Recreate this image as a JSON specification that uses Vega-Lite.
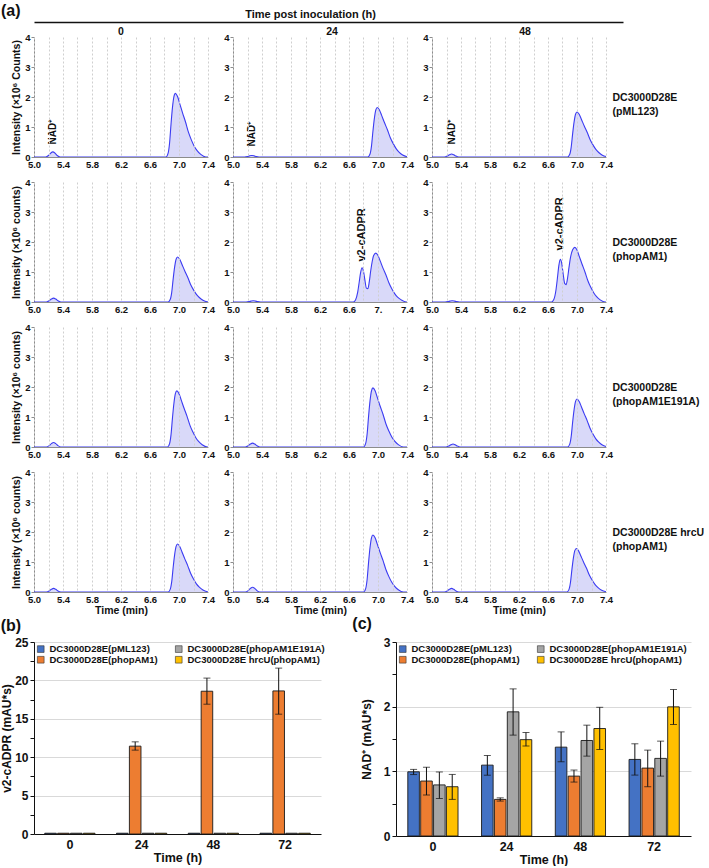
{
  "$schema": "https://vega.github.io/schema/vega-lite/v6.json",
  "padding": {"left": 0, "top": 3, "right": 0, "bottom": 0},
  "background": "white",
  "spacing": 0,
  "config": {
    "view": {"stroke": null},
    "font": "Liberation Sans",
    "axis": {"labelFont": "Liberation Sans", "labelFontWeight": "bold", "labelFontSize": 9.5, "labelColor": "#111", "titleFont": "Liberation Sans", "titleFontWeight": "bold", "titleFontSize": 10.5, "titleColor": "#111", "domainColor": "#8c8c8c", "tickColor": "#8c8c8c", "labelFlush": false, "labelOverlap": false, "grid": false},
    "title": {"font": "Liberation Sans", "fontWeight": "bold", "color": "#111"}
  },
  "datasets": {
    "chrom": [
      {"p":"r1c1","t":5,"v":0},{"p":"r1c1","t":5.16,"v":0},{"p":"r1c1","t":5.2,"v":0.051},{"p":"r1c1","t":5.23,"v":0.128},{"p":"r1c1","t":5.26,"v":0.17},{"p":"r1c1","t":5.29,"v":0.128},{"p":"r1c1","t":5.32,"v":0.051},{"p":"r1c1","t":5.36,"v":0},
      {"p":"r1c1","t":6.82,"v":0},{"p":"r1c1","t":6.85,"v":0.127},{"p":"r1c1","t":6.87,"v":0.466},{"p":"r1c1","t":6.89,"v":1.102},{"p":"r1c1","t":6.91,"v":1.654},{"p":"r1c1","t":6.93,"v":2.014},{"p":"r1c1","t":6.95,"v":2.12},{"p":"r1c1","t":6.98,"v":2.014},{"p":"r1c1","t":7.01,"v":1.781},{"p":"r1c1","t":7.05,"v":1.463},{"p":"r1c1","t":7.09,"v":1.166},{"p":"r1c1","t":7.13,"v":0.827},{"p":"r1c1","t":7.17,"v":0.572},{"p":"r1c1","t":7.21,"v":0.36},{"p":"r1c1","t":7.25,"v":0.212},{"p":"r1c1","t":7.3,"v":0.085},{"p":"r1c1","t":7.37,"v":0},{"p":"r1c1","t":7.4,"v":0},

      {"p":"r1c2","t":5,"v":0},{"p":"r1c2","t":5.16,"v":0},{"p":"r1c2","t":5.2,"v":0.015},{"p":"r1c2","t":5.23,"v":0.038},{"p":"r1c2","t":5.26,"v":0.05},{"p":"r1c2","t":5.29,"v":0.038},{"p":"r1c2","t":5.32,"v":0.015},{"p":"r1c2","t":5.36,"v":0},
      {"p":"r1c2","t":6.86,"v":0},{"p":"r1c2","t":6.89,"v":0.099},{"p":"r1c2","t":6.91,"v":0.363},{"p":"r1c2","t":6.93,"v":0.858},{"p":"r1c2","t":6.95,"v":1.287},{"p":"r1c2","t":6.97,"v":1.568},{"p":"r1c2","t":6.99,"v":1.65},{"p":"r1c2","t":7.02,"v":1.568},{"p":"r1c2","t":7.05,"v":1.386},{"p":"r1c2","t":7.09,"v":1.139},{"p":"r1c2","t":7.13,"v":0.908},{"p":"r1c2","t":7.17,"v":0.644},{"p":"r1c2","t":7.21,"v":0.446},{"p":"r1c2","t":7.25,"v":0.281},{"p":"r1c2","t":7.29,"v":0.165},{"p":"r1c2","t":7.34,"v":0.066},{"p":"r1c2","t":7.4,"v":0.01},

      {"p":"r1c3","t":5,"v":0},{"p":"r1c3","t":5.17,"v":0},{"p":"r1c3","t":5.21,"v":0.03},{"p":"r1c3","t":5.24,"v":0.075},{"p":"r1c3","t":5.27,"v":0.1},{"p":"r1c3","t":5.3,"v":0.075},{"p":"r1c3","t":5.33,"v":0.03},{"p":"r1c3","t":5.37,"v":0},
      {"p":"r1c3","t":6.87,"v":0},{"p":"r1c3","t":6.9,"v":0.09},{"p":"r1c3","t":6.92,"v":0.33},{"p":"r1c3","t":6.94,"v":0.78},{"p":"r1c3","t":6.96,"v":1.17},{"p":"r1c3","t":6.98,"v":1.425},{"p":"r1c3","t":7,"v":1.5},{"p":"r1c3","t":7.03,"v":1.425},{"p":"r1c3","t":7.06,"v":1.26},{"p":"r1c3","t":7.1,"v":1.035},{"p":"r1c3","t":7.14,"v":0.825},{"p":"r1c3","t":7.18,"v":0.585},{"p":"r1c3","t":7.22,"v":0.405},{"p":"r1c3","t":7.26,"v":0.255},{"p":"r1c3","t":7.3,"v":0.15},{"p":"r1c3","t":7.35,"v":0.06},{"p":"r1c3","t":7.4,"v":0.015},

      {"p":"r2c1","t":5,"v":0},{"p":"r2c1","t":5.17,"v":0},{"p":"r2c1","t":5.21,"v":0.039},{"p":"r2c1","t":5.24,"v":0.098},{"p":"r2c1","t":5.27,"v":0.13},{"p":"r2c1","t":5.3,"v":0.098},{"p":"r2c1","t":5.33,"v":0.039},{"p":"r2c1","t":5.37,"v":0},
      {"p":"r2c1","t":6.85,"v":0},{"p":"r2c1","t":6.88,"v":0.09},{"p":"r2c1","t":6.9,"v":0.33},{"p":"r2c1","t":6.92,"v":0.78},{"p":"r2c1","t":6.94,"v":1.17},{"p":"r2c1","t":6.96,"v":1.425},{"p":"r2c1","t":6.98,"v":1.5},{"p":"r2c1","t":7.01,"v":1.425},{"p":"r2c1","t":7.04,"v":1.26},{"p":"r2c1","t":7.08,"v":1.035},{"p":"r2c1","t":7.12,"v":0.825},{"p":"r2c1","t":7.16,"v":0.585},{"p":"r2c1","t":7.2,"v":0.405},{"p":"r2c1","t":7.24,"v":0.255},{"p":"r2c1","t":7.28,"v":0.15},{"p":"r2c1","t":7.33,"v":0.06},{"p":"r2c1","t":7.4,"v":0},

      {"p":"r2c2","t":5,"v":0},{"p":"r2c2","t":5.18,"v":0},{"p":"r2c2","t":5.22,"v":0.012},{"p":"r2c2","t":5.25,"v":0.03},{"p":"r2c2","t":5.28,"v":0.04},{"p":"r2c2","t":5.31,"v":0.03},{"p":"r2c2","t":5.34,"v":0.012},{"p":"r2c2","t":5.38,"v":0},
      {"p":"r2c2","t":6.66,"v":0},{"p":"r2c2","t":6.69,"v":0.07},{"p":"r2c2","t":6.72,"v":0.33},{"p":"r2c2","t":6.74,"v":0.65},{"p":"r2c2","t":6.76,"v":0.98},{"p":"r2c2","t":6.78,"v":1.14},{"p":"r2c2","t":6.8,"v":1.02},{"p":"r2c2","t":6.82,"v":0.72},{"p":"r2c2","t":6.84,"v":0.46},{"p":"r2c2","t":6.86,"v":0.44},{"p":"r2c2","t":6.88,"v":0.68},{"p":"r2c2","t":6.9,"v":1.05},{"p":"r2c2","t":6.92,"v":1.35},{"p":"r2c2","t":6.94,"v":1.55},{"p":"r2c2","t":6.97,"v":1.63},{"p":"r2c2","t":7,"v":1.55},{"p":"r2c2","t":7.03,"v":1.37},{"p":"r2c2","t":7.07,"v":1.12},{"p":"r2c2","t":7.11,"v":0.9},{"p":"r2c2","t":7.15,"v":0.64},{"p":"r2c2","t":7.19,"v":0.44},{"p":"r2c2","t":7.23,"v":0.28},{"p":"r2c2","t":7.27,"v":0.16},{"p":"r2c2","t":7.32,"v":0.07},{"p":"r2c2","t":7.39,"v":0},{"p":"r2c2","t":7.4,"v":0},

      {"p":"r2c3","t":5,"v":0},{"p":"r2c3","t":5.18,"v":0},{"p":"r2c3","t":5.22,"v":0.012},{"p":"r2c3","t":5.25,"v":0.03},{"p":"r2c3","t":5.28,"v":0.04},{"p":"r2c3","t":5.31,"v":0.03},{"p":"r2c3","t":5.34,"v":0.012},{"p":"r2c3","t":5.38,"v":0},
      {"p":"r2c3","t":6.65,"v":0},{"p":"r2c3","t":6.68,"v":0.08},{"p":"r2c3","t":6.71,"v":0.4},{"p":"r2c3","t":6.73,"v":0.8},{"p":"r2c3","t":6.75,"v":1.22},{"p":"r2c3","t":6.77,"v":1.42},{"p":"r2c3","t":6.79,"v":1.28},{"p":"r2c3","t":6.81,"v":0.92},{"p":"r2c3","t":6.83,"v":0.62},{"p":"r2c3","t":6.85,"v":0.58},{"p":"r2c3","t":6.87,"v":0.8},{"p":"r2c3","t":6.89,"v":1.16},{"p":"r2c3","t":6.91,"v":1.48},{"p":"r2c3","t":6.94,"v":1.74},{"p":"r2c3","t":6.97,"v":1.82},{"p":"r2c3","t":7,"v":1.73},{"p":"r2c3","t":7.03,"v":1.53},{"p":"r2c3","t":7.07,"v":1.26},{"p":"r2c3","t":7.11,"v":1.0},{"p":"r2c3","t":7.15,"v":0.71},{"p":"r2c3","t":7.19,"v":0.49},{"p":"r2c3","t":7.23,"v":0.31},{"p":"r2c3","t":7.27,"v":0.18},{"p":"r2c3","t":7.32,"v":0.07},{"p":"r2c3","t":7.39,"v":0},{"p":"r2c3","t":7.4,"v":0},

      {"p":"r3c1","t":5,"v":0},{"p":"r3c1","t":5.17,"v":0},{"p":"r3c1","t":5.21,"v":0.045},{"p":"r3c1","t":5.24,"v":0.113},{"p":"r3c1","t":5.27,"v":0.15},{"p":"r3c1","t":5.3,"v":0.113},{"p":"r3c1","t":5.33,"v":0.045},{"p":"r3c1","t":5.37,"v":0},
      {"p":"r3c1","t":6.84,"v":0},{"p":"r3c1","t":6.87,"v":0.112},{"p":"r3c1","t":6.89,"v":0.411},{"p":"r3c1","t":6.91,"v":0.972},{"p":"r3c1","t":6.93,"v":1.459},{"p":"r3c1","t":6.95,"v":1.777},{"p":"r3c1","t":6.97,"v":1.87},{"p":"r3c1","t":7,"v":1.777},{"p":"r3c1","t":7.03,"v":1.571},{"p":"r3c1","t":7.07,"v":1.29},{"p":"r3c1","t":7.11,"v":1.029},{"p":"r3c1","t":7.15,"v":0.729},{"p":"r3c1","t":7.19,"v":0.505},{"p":"r3c1","t":7.23,"v":0.318},{"p":"r3c1","t":7.27,"v":0.187},{"p":"r3c1","t":7.32,"v":0.075},{"p":"r3c1","t":7.39,"v":0},{"p":"r3c1","t":7.4,"v":0},

      {"p":"r3c2","t":5,"v":0},{"p":"r3c2","t":5.17,"v":0},{"p":"r3c2","t":5.21,"v":0.039},{"p":"r3c2","t":5.24,"v":0.098},{"p":"r3c2","t":5.27,"v":0.13},{"p":"r3c2","t":5.3,"v":0.098},{"p":"r3c2","t":5.33,"v":0.039},{"p":"r3c2","t":5.37,"v":0},
      {"p":"r3c2","t":6.8,"v":0},{"p":"r3c2","t":6.83,"v":0.118},{"p":"r3c2","t":6.85,"v":0.433},{"p":"r3c2","t":6.87,"v":1.024},{"p":"r3c2","t":6.89,"v":1.537},{"p":"r3c2","t":6.91,"v":1.872},{"p":"r3c2","t":6.93,"v":1.97},{"p":"r3c2","t":6.96,"v":1.872},{"p":"r3c2","t":6.99,"v":1.655},{"p":"r3c2","t":7.03,"v":1.359},{"p":"r3c2","t":7.07,"v":1.084},{"p":"r3c2","t":7.11,"v":0.768},{"p":"r3c2","t":7.15,"v":0.532},{"p":"r3c2","t":7.19,"v":0.335},{"p":"r3c2","t":7.23,"v":0.197},{"p":"r3c2","t":7.28,"v":0.079},{"p":"r3c2","t":7.35,"v":0},{"p":"r3c2","t":7.4,"v":0},

      {"p":"r3c3","t":5,"v":0},{"p":"r3c3","t":5.19,"v":0},{"p":"r3c3","t":5.23,"v":0.03},{"p":"r3c3","t":5.26,"v":0.075},{"p":"r3c3","t":5.29,"v":0.1},{"p":"r3c3","t":5.32,"v":0.075},{"p":"r3c3","t":5.35,"v":0.03},{"p":"r3c3","t":5.39,"v":0},
      {"p":"r3c3","t":6.87,"v":0},{"p":"r3c3","t":6.9,"v":0.096},{"p":"r3c3","t":6.92,"v":0.352},{"p":"r3c3","t":6.94,"v":0.832},{"p":"r3c3","t":6.96,"v":1.248},{"p":"r3c3","t":6.98,"v":1.52},{"p":"r3c3","t":7,"v":1.6},{"p":"r3c3","t":7.03,"v":1.52},{"p":"r3c3","t":7.06,"v":1.344},{"p":"r3c3","t":7.1,"v":1.104},{"p":"r3c3","t":7.14,"v":0.88},{"p":"r3c3","t":7.18,"v":0.624},{"p":"r3c3","t":7.22,"v":0.432},{"p":"r3c3","t":7.26,"v":0.272},{"p":"r3c3","t":7.3,"v":0.16},{"p":"r3c3","t":7.35,"v":0.064},{"p":"r3c3","t":7.4,"v":0.016},

      {"p":"r4c1","t":5,"v":0},{"p":"r4c1","t":5.17,"v":0},{"p":"r4c1","t":5.21,"v":0.036},{"p":"r4c1","t":5.24,"v":0.09},{"p":"r4c1","t":5.27,"v":0.12},{"p":"r4c1","t":5.3,"v":0.09},{"p":"r4c1","t":5.33,"v":0.036},{"p":"r4c1","t":5.37,"v":0},
      {"p":"r4c1","t":6.85,"v":0},{"p":"r4c1","t":6.88,"v":0.096},{"p":"r4c1","t":6.9,"v":0.352},{"p":"r4c1","t":6.92,"v":0.832},{"p":"r4c1","t":6.94,"v":1.248},{"p":"r4c1","t":6.96,"v":1.52},{"p":"r4c1","t":6.98,"v":1.6},{"p":"r4c1","t":7.01,"v":1.52},{"p":"r4c1","t":7.04,"v":1.344},{"p":"r4c1","t":7.08,"v":1.104},{"p":"r4c1","t":7.12,"v":0.88},{"p":"r4c1","t":7.16,"v":0.624},{"p":"r4c1","t":7.2,"v":0.432},{"p":"r4c1","t":7.24,"v":0.272},{"p":"r4c1","t":7.28,"v":0.16},{"p":"r4c1","t":7.33,"v":0.064},{"p":"r4c1","t":7.4,"v":0},

      {"p":"r4c2","t":5,"v":0},{"p":"r4c2","t":5.17,"v":0},{"p":"r4c2","t":5.21,"v":0.048},{"p":"r4c2","t":5.24,"v":0.12},{"p":"r4c2","t":5.27,"v":0.16},{"p":"r4c2","t":5.3,"v":0.12},{"p":"r4c2","t":5.33,"v":0.048},{"p":"r4c2","t":5.37,"v":0},
      {"p":"r4c2","t":6.8,"v":0},{"p":"r4c2","t":6.83,"v":0.114},{"p":"r4c2","t":6.85,"v":0.418},{"p":"r4c2","t":6.87,"v":0.988},{"p":"r4c2","t":6.89,"v":1.482},{"p":"r4c2","t":6.91,"v":1.805},{"p":"r4c2","t":6.93,"v":1.9},{"p":"r4c2","t":6.96,"v":1.805},{"p":"r4c2","t":6.99,"v":1.596},{"p":"r4c2","t":7.03,"v":1.311},{"p":"r4c2","t":7.07,"v":1.045},{"p":"r4c2","t":7.11,"v":0.741},{"p":"r4c2","t":7.15,"v":0.513},{"p":"r4c2","t":7.19,"v":0.323},{"p":"r4c2","t":7.23,"v":0.19},{"p":"r4c2","t":7.28,"v":0.076},{"p":"r4c2","t":7.35,"v":0},{"p":"r4c2","t":7.4,"v":0},

      {"p":"r4c3","t":5,"v":0},{"p":"r4c3","t":5.17,"v":0},{"p":"r4c3","t":5.21,"v":0.036},{"p":"r4c3","t":5.24,"v":0.09},{"p":"r4c3","t":5.27,"v":0.12},{"p":"r4c3","t":5.3,"v":0.09},{"p":"r4c3","t":5.33,"v":0.036},{"p":"r4c3","t":5.37,"v":0},
      {"p":"r4c3","t":6.86,"v":0},{"p":"r4c3","t":6.89,"v":0.087},{"p":"r4c3","t":6.91,"v":0.319},{"p":"r4c3","t":6.93,"v":0.754},{"p":"r4c3","t":6.95,"v":1.131},{"p":"r4c3","t":6.97,"v":1.378},{"p":"r4c3","t":6.99,"v":1.45},{"p":"r4c3","t":7.02,"v":1.378},{"p":"r4c3","t":7.05,"v":1.218},{"p":"r4c3","t":7.09,"v":1.001},{"p":"r4c3","t":7.13,"v":0.798},{"p":"r4c3","t":7.17,"v":0.566},{"p":"r4c3","t":7.21,"v":0.392},{"p":"r4c3","t":7.25,"v":0.247},{"p":"r4c3","t":7.29,"v":0.145},{"p":"r4c3","t":7.34,"v":0.058},{"p":"r4c3","t":7.4,"v":0.01}
    ],
    "ann": [
      {"p":"r1c1","t":5.26,"v":0.42,"label":"NAD⁺"},
      {"p":"r1c2","t":5.26,"v":0.35,"label":"NAD⁺"},
      {"p":"r1c3","t":5.27,"v":0.42,"label":"NAD⁺"},
      {"p":"r2c2","t":6.78,"v":1.35,"label":"v2-cADPR"},
      {"p":"r2c3","t":6.77,"v":1.72,"label":"v2-cADPR"}
    ],
    "cadpr": [
      {"time":"0","strain":"DC3000D28E(pML123)","v":0.1,"lo":null,"hi":null},
      {"time":"0","strain":"DC3000D28E(phopAM1)","v":0.1,"lo":null,"hi":null},
      {"time":"0","strain":"DC3000D28E(phopAM1E191A)","v":0.1,"lo":null,"hi":null},
      {"time":"0","strain":"DC3000D28E hrcU(phopAM1)","v":0.1,"lo":null,"hi":null},
      {"time":"24","strain":"DC3000D28E(pML123)","v":0.1,"lo":null,"hi":null},
      {"time":"24","strain":"DC3000D28E(phopAM1)","v":11.44,"lo":10.92,"hi":12.0},
      {"time":"24","strain":"DC3000D28E(phopAM1E191A)","v":0.1,"lo":null,"hi":null},
      {"time":"24","strain":"DC3000D28E hrcU(phopAM1)","v":0.1,"lo":null,"hi":null},
      {"time":"48","strain":"DC3000D28E(pML123)","v":0.1,"lo":null,"hi":null},
      {"time":"48","strain":"DC3000D28E(phopAM1)","v":18.59,"lo":16.9,"hi":20.3},
      {"time":"48","strain":"DC3000D28E(phopAM1E191A)","v":0.1,"lo":null,"hi":null},
      {"time":"48","strain":"DC3000D28E hrcU(phopAM1)","v":0.1,"lo":null,"hi":null},
      {"time":"72","strain":"DC3000D28E(pML123)","v":0.1,"lo":null,"hi":null},
      {"time":"72","strain":"DC3000D28E(phopAM1)","v":18.63,"lo":15.6,"hi":21.6},
      {"time":"72","strain":"DC3000D28E(phopAM1E191A)","v":0.1,"lo":null,"hi":null},
      {"time":"72","strain":"DC3000D28E hrcU(phopAM1)","v":0.1,"lo":null,"hi":null}
    ],
    "nad": [
      {"time":"0","strain":"DC3000D28E(pML123)","v":0.993,"lo":0.95,"hi":1.03},
      {"time":"0","strain":"DC3000D28E(phopAM1)","v":0.85,"lo":0.633,"hi":1.065},
      {"time":"0","strain":"DC3000D28E(phopAM1E191A)","v":0.79,"lo":0.58,"hi":0.99},
      {"time":"0","strain":"DC3000D28E hrcU(phopAM1)","v":0.762,"lo":0.566,"hi":0.952},
      {"time":"24","strain":"DC3000D28E(pML123)","v":1.096,"lo":0.94,"hi":1.245},
      {"time":"24","strain":"DC3000D28E(phopAM1)","v":0.566,"lo":0.54,"hi":0.59},
      {"time":"24","strain":"DC3000D28E(phopAM1E191A)","v":1.92,"lo":1.56,"hi":2.275},
      {"time":"24","strain":"DC3000D28E hrcU(phopAM1)","v":1.49,"lo":1.39,"hi":1.6},
      {"time":"48","strain":"DC3000D28E(pML123)","v":1.374,"lo":1.148,"hi":1.61},
      {"time":"48","strain":"DC3000D28E(phopAM1)","v":0.926,"lo":0.834,"hi":1.02},
      {"time":"48","strain":"DC3000D28E(phopAM1E191A)","v":1.477,"lo":1.235,"hi":1.714},
      {"time":"48","strain":"DC3000D28E hrcU(phopAM1)","v":1.662,"lo":1.338,"hi":1.99},
      {"time":"72","strain":"DC3000D28E(pML123)","v":1.184,"lo":0.942,"hi":1.426},
      {"time":"72","strain":"DC3000D28E(phopAM1)","v":1.05,"lo":0.762,"hi":1.328},
      {"time":"72","strain":"DC3000D28E(phopAM1E191A)","v":1.2,"lo":0.926,"hi":1.467},
      {"time":"72","strain":"DC3000D28E hrcU(phopAM1)","v":1.997,"lo":1.724,"hi":2.265}
    ]
  },
  "vconcat": [
    {
      "width": 589, "height": 1,
      "data": {"values": [{"x": 0}, {"x": 1}]},
      "mark": {"type": "point", "opacity": 0},
      "encoding": {"x": {"field": "x", "type": "quantitative", "scale": {"domain": [0, 1], "nice": false}, "axis": {"orient": "top", "ticks": false, "labels": false, "domainColor": "#111", "domainWidth": 1.5, "title": "Time post inoculation (h)", "titleFontSize": 11, "titlePadding": 3, "titleX": 276}}},
      "title": {"text": "(a)", "anchor": "start", "frame": "group", "fontSize": 16, "dx": -33, "offset": -11}
    },
    {
      "vconcat": [
        {
          "hconcat": [
            {
              "width": 174, "height": 120,
              "title": {"text": "0", "fontSize": 10.5, "offset": -5, "frame": "group"},
              "layer": [
                {"data": {"name": "chrom"}, "transform": [{"filter": "datum.p=='r1c1'"}],
                 "mark": {"type": "area", "color": "#c9c9f7", "interpolate": "monotone", "line": {"color": "#3b3bf2", "strokeWidth": 1.1}},
                 "encoding": {
                   "x": {"field": "t", "type": "quantitative", "scale": {"domain": [5, 7.4], "nice": false, "zero": false}, "axis": {"values": [5,5.2,5.4,5.6,5.8,6,6.2,6.4,6.6,6.8,7,7.2,7.4], "tickCount": 30, "labelExpr": "(round(datum.value*10)-50)%4==0 ? format(datum.value,'.1f') : ''", "labelOverlap": false, "labelFlush": false, "grid": true, "gridDash": [2,2], "gridColor": "#cfcfcf", "ticks": false, "labelPadding": 2, "title": null, "zindex": 1}},
                   "y": {"field": "v", "type": "quantitative", "scale": {"domain": [0, 4], "nice": false}, "axis": {"values": [0,1,2,3,4], "tickCount": 30, "format": "d", "labelOverlap": false, "labelFlush": false, "tickSize": 3, "labelPadding": 1, "title": "Intensity (×10⁶ Counts)", "titlePadding": 3}}}},
                {"data": {"name": "ann"}, "transform": [{"filter": "datum.p=='r1c1'"}],
                 "mark": {"type": "text", "angle": 270, "align": "left", "baseline": "middle", "font": "Liberation Sans", "fontWeight": "bold", "fontSize": 10, "color": "#111"},
                 "encoding": {"x": {"field": "t", "type": "quantitative"}, "y": {"field": "v", "type": "quantitative"}, "text": {"field": "label"}}}
              ]
            },
            {
              "width": 174, "height": 120,
              "title": {"text": "24", "fontSize": 10.5, "offset": -5, "frame": "group", "dx": 12},
              "layer": [
                {"data": {"name": "chrom"}, "transform": [{"filter": "datum.p=='r1c2'"}],
                 "mark": {"type": "area", "color": "#c9c9f7", "interpolate": "monotone", "line": {"color": "#3b3bf2", "strokeWidth": 1.1}},
                 "encoding": {
                   "x": {"field": "t", "type": "quantitative", "scale": {"domain": [5, 7.4], "nice": false, "zero": false}, "axis": {"values": [5,5.2,5.4,5.6,5.8,6,6.2,6.4,6.6,6.8,7,7.2,7.4], "tickCount": 30, "labelExpr": "(round(datum.value*10)-50)%4==0 ? format(datum.value,'.1f') : ''", "labelOverlap": false, "labelFlush": false, "grid": true, "gridDash": [2,2], "gridColor": "#cfcfcf", "ticks": false, "labelPadding": 2, "title": null, "zindex": 1}},
                   "y": {"field": "v", "type": "quantitative", "scale": {"domain": [0, 4], "nice": false}, "axis": {"values": [0,1,2,3,4], "tickCount": 30, "format": "d", "labelOverlap": false, "labelFlush": false, "tickSize": 3, "labelPadding": 1, "title": null}}}},
                {"data": {"name": "ann"}, "transform": [{"filter": "datum.p=='r1c2'"}],
                 "mark": {"type": "text", "angle": 270, "align": "left", "baseline": "middle", "font": "Liberation Sans", "fontWeight": "bold", "fontSize": 10, "color": "#111"},
                 "encoding": {"x": {"field": "t", "type": "quantitative"}, "y": {"field": "v", "type": "quantitative"}, "text": {"field": "label"}}}
              ]
            },
            {
              "width": 174, "height": 120,
              "title": {"text": "48", "fontSize": 10.5, "offset": -5, "frame": "group", "dx": 6},
              "layer": [
                {"data": {"name": "chrom"}, "transform": [{"filter": "datum.p=='r1c3'"}],
                 "mark": {"type": "area", "color": "#c9c9f7", "interpolate": "monotone", "line": {"color": "#3b3bf2", "strokeWidth": 1.1}},
                 "encoding": {
                   "x": {"field": "t", "type": "quantitative", "scale": {"domain": [5, 7.4], "nice": false, "zero": false}, "axis": {"values": [5,5.2,5.4,5.6,5.8,6,6.2,6.4,6.6,6.8,7,7.2,7.4], "tickCount": 30, "labelExpr": "(round(datum.value*10)-50)%4==0 ? format(datum.value,'.1f') : ''", "labelOverlap": false, "labelFlush": false, "grid": true, "gridDash": [2,2], "gridColor": "#cfcfcf", "ticks": false, "labelPadding": 2, "title": null, "zindex": 1}},
                   "y": {"field": "v", "type": "quantitative", "scale": {"domain": [0, 4], "nice": false}, "axis": {"orient": "left", "values": [0,1,2,3,4], "tickCount": 30, "format": "d", "labelOverlap": false, "labelFlush": false, "tickSize": 3, "labelPadding": 1, "title": null}}}},
                {"data": {"name": "ann"}, "transform": [{"filter": "datum.p=='r1c3'"}],
                 "mark": {"type": "text", "angle": 270, "align": "left", "baseline": "middle", "font": "Liberation Sans", "fontWeight": "bold", "fontSize": 10, "color": "#111"},
                 "encoding": {"x": {"field": "t", "type": "quantitative"}, "y": {"field": "v", "type": "quantitative", "axis": null}, "text": {"field": "label"}}},
                {"data": {"name": "chrom"}, "transform": [{"filter": "datum.p=='r1c3'"}],
                 "mark": {"type": "point", "opacity": 0},
                 "encoding": {"y": {"field": "v", "type": "quantitative", "axis": {"orient": "right", "title": ["DC3000D28E", "(pML123)"], "labels": false, "ticks": false, "domain": false, "grid": false, "titleAngle": 0, "titleAlign": "left", "titleBaseline": "middle", "titleX": 6, "titleY": 60, "titleFontSize": 10.5, "titleLineHeight": 14}}}}
              ],
              "resolve": {"axis": {"y": "independent"}}
            }
          ],
          "spacing": 8
        },
        {
          "hconcat": [
            {
              "width": 174, "height": 120,
              "data": {"name": "chrom"}, "transform": [{"filter": "datum.p=='r2c1'"}],
              "mark": {"type": "area", "color": "#c9c9f7", "interpolate": "monotone", "line": {"color": "#3b3bf2", "strokeWidth": 1.1}},
              "encoding": {
                "x": {"field": "t", "type": "quantitative", "scale": {"domain": [5, 7.4], "nice": false, "zero": false}, "axis": {"values": [5,5.2,5.4,5.6,5.8,6,6.2,6.4,6.6,6.8,7,7.2,7.4], "tickCount": 30, "labelExpr": "(round(datum.value*10)-50)%4==0 ? format(datum.value,'.1f') : ''", "labelOverlap": false, "labelFlush": false, "grid": true, "gridDash": [2,2], "gridColor": "#cfcfcf", "ticks": false, "labelPadding": 2, "title": null, "zindex": 1}},
                "y": {"field": "v", "type": "quantitative", "scale": {"domain": [0, 4], "nice": false}, "axis": {"values": [0,1,2,3,4], "tickCount": 30, "format": "d", "labelOverlap": false, "labelFlush": false, "tickSize": 3, "labelPadding": 1, "title": "Intensity (×10⁶ counts)", "titlePadding": 3}}}
            },
            {
              "width": 174, "height": 120,
              "layer": [
                {"data": {"name": "chrom"}, "transform": [{"filter": "datum.p=='r2c2'"}],
                 "mark": {"type": "area", "color": "#c9c9f7", "interpolate": "monotone", "line": {"color": "#3b3bf2", "strokeWidth": 1.1}},
                 "encoding": {
                   "x": {"field": "t", "type": "quantitative", "scale": {"domain": [5, 7.4], "nice": false, "zero": false}, "axis": {"values": [5,5.2,5.4,5.6,5.8,6,6.2,6.4,6.6,6.8,7,7.2,7.4], "tickCount": 30, "labelExpr": "datum.value==7 ? '7.' : ((round(datum.value*10)-50)%4==0 ? format(datum.value,'.1f') : '')", "labelOverlap": false, "labelFlush": false, "grid": true, "gridDash": [2,2], "gridColor": "#cfcfcf", "ticks": false, "labelPadding": 2, "title": null, "zindex": 1}},
                   "y": {"field": "v", "type": "quantitative", "scale": {"domain": [0, 4], "nice": false}, "axis": {"values": [0,1,2,3,4], "tickCount": 30, "format": "d", "labelOverlap": false, "labelFlush": false, "tickSize": 3, "labelPadding": 1, "title": null}}}},
                {"data": {"name": "ann"}, "transform": [{"filter": "datum.p=='r2c2'"}],
                 "mark": {"type": "text", "angle": 270, "align": "left", "baseline": "middle", "font": "Liberation Sans", "fontWeight": "bold", "fontSize": 11, "color": "#111"},
                 "encoding": {"x": {"field": "t", "type": "quantitative"}, "y": {"field": "v", "type": "quantitative"}, "text": {"field": "label"}}}
              ]
            },
            {
              "width": 174, "height": 120,
              "layer": [
                {"data": {"name": "chrom"}, "transform": [{"filter": "datum.p=='r2c3'"}],
                 "mark": {"type": "area", "color": "#c9c9f7", "interpolate": "monotone", "line": {"color": "#3b3bf2", "strokeWidth": 1.1}},
                 "encoding": {
                   "x": {"field": "t", "type": "quantitative", "scale": {"domain": [5, 7.4], "nice": false, "zero": false}, "axis": {"values": [5,5.2,5.4,5.6,5.8,6,6.2,6.4,6.6,6.8,7,7.2,7.4], "tickCount": 30, "labelExpr": "(round(datum.value*10)-50)%4==0 ? format(datum.value,'.1f') : ''", "labelOverlap": false, "labelFlush": false, "grid": true, "gridDash": [2,2], "gridColor": "#cfcfcf", "ticks": false, "labelPadding": 2, "title": null, "zindex": 1}},
                   "y": {"field": "v", "type": "quantitative", "scale": {"domain": [0, 4], "nice": false}, "axis": {"orient": "left", "values": [0,1,2,3,4], "tickCount": 30, "format": "d", "labelOverlap": false, "labelFlush": false, "tickSize": 3, "labelPadding": 1, "title": null}}}},
                {"data": {"name": "ann"}, "transform": [{"filter": "datum.p=='r2c3'"}],
                 "mark": {"type": "text", "angle": 270, "align": "left", "baseline": "middle", "font": "Liberation Sans", "fontWeight": "bold", "fontSize": 11, "color": "#111"},
                 "encoding": {"x": {"field": "t", "type": "quantitative"}, "y": {"field": "v", "type": "quantitative", "axis": null}, "text": {"field": "label"}}},
                {"data": {"name": "chrom"}, "transform": [{"filter": "datum.p=='r2c3'"}],
                 "mark": {"type": "point", "opacity": 0},
                 "encoding": {"y": {"field": "v", "type": "quantitative", "axis": {"orient": "right", "title": ["DC3000D28E", "(phopAM1)"], "labels": false, "ticks": false, "domain": false, "grid": false, "titleAngle": 0, "titleAlign": "left", "titleBaseline": "middle", "titleX": 6, "titleY": 60, "titleFontSize": 10.5, "titleLineHeight": 14}}}}
              ],
              "resolve": {"axis": {"y": "independent"}}
            }
          ],
          "spacing": 8
        },
        {
          "hconcat": [
            {
              "width": 174, "height": 120,
              "data": {"name": "chrom"}, "transform": [{"filter": "datum.p=='r3c1'"}],
              "mark": {"type": "area", "color": "#c9c9f7", "interpolate": "monotone", "line": {"color": "#3b3bf2", "strokeWidth": 1.1}},
              "encoding": {
                "x": {"field": "t", "type": "quantitative", "scale": {"domain": [5, 7.4], "nice": false, "zero": false}, "axis": {"values": [5,5.2,5.4,5.6,5.8,6,6.2,6.4,6.6,6.8,7,7.2,7.4], "tickCount": 30, "labelExpr": "(round(datum.value*10)-50)%4==0 ? format(datum.value,'.1f') : ''", "labelOverlap": false, "labelFlush": false, "grid": true, "gridDash": [2,2], "gridColor": "#cfcfcf", "ticks": false, "labelPadding": 2, "title": null, "zindex": 1}},
                "y": {"field": "v", "type": "quantitative", "scale": {"domain": [0, 4], "nice": false}, "axis": {"values": [0,1,2,3,4], "tickCount": 30, "format": "d", "labelOverlap": false, "labelFlush": false, "tickSize": 3, "labelPadding": 1, "title": "Intensity (×10⁶ counts)", "titlePadding": 3}}}
            },
            {
              "width": 174, "height": 120,
              "data": {"name": "chrom"}, "transform": [{"filter": "datum.p=='r3c2'"}],
              "mark": {"type": "area", "color": "#c9c9f7", "interpolate": "monotone", "line": {"color": "#3b3bf2", "strokeWidth": 1.1}},
              "encoding": {
                "x": {"field": "t", "type": "quantitative", "scale": {"domain": [5, 7.4], "nice": false, "zero": false}, "axis": {"values": [5,5.2,5.4,5.6,5.8,6,6.2,6.4,6.6,6.8,7,7.2,7.4], "tickCount": 30, "labelExpr": "(round(datum.value*10)-50)%4==0 ? format(datum.value,'.1f') : ''", "labelOverlap": false, "labelFlush": false, "grid": true, "gridDash": [2,2], "gridColor": "#cfcfcf", "ticks": false, "labelPadding": 2, "title": null, "zindex": 1}},
                "y": {"field": "v", "type": "quantitative", "scale": {"domain": [0, 4], "nice": false}, "axis": {"values": [0,1,2,3,4], "tickCount": 30, "format": "d", "labelOverlap": false, "labelFlush": false, "tickSize": 3, "labelPadding": 1, "title": null}}}
            },
            {
              "width": 174, "height": 120,
              "layer": [
                {"data": {"name": "chrom"}, "transform": [{"filter": "datum.p=='r3c3'"}],
                 "mark": {"type": "area", "color": "#c9c9f7", "interpolate": "monotone", "line": {"color": "#3b3bf2", "strokeWidth": 1.1}},
                 "encoding": {
                   "x": {"field": "t", "type": "quantitative", "scale": {"domain": [5, 7.4], "nice": false, "zero": false}, "axis": {"values": [5,5.2,5.4,5.6,5.8,6,6.2,6.4,6.6,6.8,7,7.2,7.4], "tickCount": 30, "labelExpr": "(round(datum.value*10)-50)%4==0 ? format(datum.value,'.1f') : ''", "labelOverlap": false, "labelFlush": false, "grid": true, "gridDash": [2,2], "gridColor": "#cfcfcf", "ticks": false, "labelPadding": 2, "title": null, "zindex": 1}},
                   "y": {"field": "v", "type": "quantitative", "scale": {"domain": [0, 4], "nice": false}, "axis": {"orient": "left", "values": [0,1,2,3,4], "tickCount": 30, "format": "d", "labelOverlap": false, "labelFlush": false, "tickSize": 3, "labelPadding": 1, "title": null}}}},
                {"data": {"name": "chrom"}, "transform": [{"filter": "datum.p=='r3c3'"}],
                 "mark": {"type": "point", "opacity": 0},
                 "encoding": {"y": {"field": "v", "type": "quantitative", "axis": {"orient": "right", "title": ["DC3000D28E", "(phopAM1E191A)"], "labels": false, "ticks": false, "domain": false, "grid": false, "titleAngle": 0, "titleAlign": "left", "titleBaseline": "middle", "titleX": 6, "titleY": 60, "titleFontSize": 10.5, "titleLineHeight": 14}}}}
              ],
              "resolve": {"axis": {"y": "independent"}}
            }
          ],
          "spacing": 8
        },
        {
          "hconcat": [
            {
              "width": 174, "height": 120,
              "data": {"name": "chrom"}, "transform": [{"filter": "datum.p=='r4c1'"}],
              "mark": {"type": "area", "color": "#c9c9f7", "interpolate": "monotone", "line": {"color": "#3b3bf2", "strokeWidth": 1.1}},
              "encoding": {
                "x": {"field": "t", "type": "quantitative", "scale": {"domain": [5, 7.4], "nice": false, "zero": false}, "axis": {"values": [5,5.2,5.4,5.6,5.8,6,6.2,6.4,6.6,6.8,7,7.2,7.4], "tickCount": 30, "labelExpr": "(round(datum.value*10)-50)%4==0 ? format(datum.value,'.1f') : ''", "labelOverlap": false, "labelFlush": false, "grid": true, "gridDash": [2,2], "gridColor": "#cfcfcf", "ticks": false, "labelPadding": 2, "title": "Time (min)", "titlePadding": 2, "zindex": 1}},
                "y": {"field": "v", "type": "quantitative", "scale": {"domain": [0, 4], "nice": false}, "axis": {"values": [0,1,2,3,4], "tickCount": 30, "format": "d", "labelOverlap": false, "labelFlush": false, "tickSize": 3, "labelPadding": 1, "title": "Intensity (×10⁶ counts)", "titlePadding": 3}}}
            },
            {
              "width": 174, "height": 120,
              "data": {"name": "chrom"}, "transform": [{"filter": "datum.p=='r4c2'"}],
              "mark": {"type": "area", "color": "#c9c9f7", "interpolate": "monotone", "line": {"color": "#3b3bf2", "strokeWidth": 1.1}},
              "encoding": {
                "x": {"field": "t", "type": "quantitative", "scale": {"domain": [5, 7.4], "nice": false, "zero": false}, "axis": {"values": [5,5.2,5.4,5.6,5.8,6,6.2,6.4,6.6,6.8,7,7.2,7.4], "tickCount": 30, "labelExpr": "(round(datum.value*10)-50)%4==0 ? format(datum.value,'.1f') : ''", "labelOverlap": false, "labelFlush": false, "grid": true, "gridDash": [2,2], "gridColor": "#cfcfcf", "ticks": false, "labelPadding": 2, "title": "Time (min)", "titlePadding": 2, "zindex": 1}},
                "y": {"field": "v", "type": "quantitative", "scale": {"domain": [0, 4], "nice": false}, "axis": {"values": [0,1,2,3,4], "tickCount": 30, "format": "d", "labelOverlap": false, "labelFlush": false, "tickSize": 3, "labelPadding": 1, "title": null}}}
            },
            {
              "width": 174, "height": 120,
              "layer": [
                {"data": {"name": "chrom"}, "transform": [{"filter": "datum.p=='r4c3'"}],
                 "mark": {"type": "area", "color": "#c9c9f7", "interpolate": "monotone", "line": {"color": "#3b3bf2", "strokeWidth": 1.1}},
                 "encoding": {
                   "x": {"field": "t", "type": "quantitative", "scale": {"domain": [5, 7.4], "nice": false, "zero": false}, "axis": {"values": [5,5.2,5.4,5.6,5.8,6,6.2,6.4,6.6,6.8,7,7.2,7.4], "tickCount": 30, "labelExpr": "(round(datum.value*10)-50)%4==0 ? format(datum.value,'.1f') : ''", "labelOverlap": false, "labelFlush": false, "grid": true, "gridDash": [2,2], "gridColor": "#cfcfcf", "ticks": false, "labelPadding": 2, "title": "Time (min)", "titlePadding": 2, "zindex": 1}},
                   "y": {"field": "v", "type": "quantitative", "scale": {"domain": [0, 4], "nice": false}, "axis": {"orient": "left", "values": [0,1,2,3,4], "tickCount": 30, "format": "d", "labelOverlap": false, "labelFlush": false, "tickSize": 3, "labelPadding": 1, "title": null}}}},
                {"data": {"name": "chrom"}, "transform": [{"filter": "datum.p=='r4c3'"}],
                 "mark": {"type": "point", "opacity": 0},
                 "encoding": {"y": {"field": "v", "type": "quantitative", "axis": {"orient": "right", "title": ["DC3000D28E hrcU", "(phopAM1)"], "labels": false, "ticks": false, "domain": false, "grid": false, "titleAngle": 0, "titleAlign": "left", "titleBaseline": "middle", "titleX": 6, "titleY": 60, "titleFontSize": 10.5, "titleLineHeight": 14}}}}
              ],
              "resolve": {"axis": {"y": "independent"}}
            }
          ],
          "spacing": 8
        }
      ],
      "spacing": 8
    },
    {
      "hconcat": [
        {
          "width": 287, "height": 192,
          "title": {"text": "(b)", "anchor": "start", "frame": "bounds", "fontSize": 16, "offset": 2},
          "data": {"name": "cadpr"},
          "encoding": {
            "x": {"field": "time", "type": "nominal", "sort": ["0","24","48","72"], "scale": {"paddingInner": 0.3, "paddingOuter": 0.15}, "axis": {"labelAngle": 0, "labelOverlap": false, "ticks": false, "domainColor": "#111", "labelFontSize": 12.5, "labelPadding": 4, "title": "Time (h)", "titleFontSize": 12.5, "titlePadding": 1}},
            "xOffset": {"field": "strain", "type": "nominal", "scale": {"domain": ["DC3000D28E(pML123)","DC3000D28E(phopAM1)","DC3000D28E(phopAM1E191A)","DC3000D28E hrcU(phopAM1)"], "paddingInner": 0.1}}
          },
          "layer": [
            {"mark": {"type": "bar", "stroke": "#1a1a1a", "strokeWidth": 0.9},
             "encoding": {
               "y": {"field": "v", "type": "quantitative", "scale": {"domain": [0, 25], "nice": false}, "axis": {"values": [0,2.5,5,7.5,10,12.5,15,17.5,20,22.5,25], "tickCount": 30, "labelExpr": "datum.value % 5 == 0 ? format(datum.value, 'd') : ''", "labelOverlap": false, "labelFlush": false, "grid": true, "gridColor": {"condition": {"test": "datum.value % 5 == 0 && datum.value > 0", "value": "#d9d9d9"}, "value": "transparent"}, "tickSize": 4, "tickColor": "#111", "domainColor": "#111", "labelFontSize": 12, "labelPadding": 2, "title": "v2-cADPR (mAU*s)", "titleFontSize": 12, "titlePadding": 1}},
               "color": {"field": "strain", "type": "nominal", "scale": {"domain": ["DC3000D28E(pML123)","DC3000D28E(phopAM1)","DC3000D28E(phopAM1E191A)","DC3000D28E hrcU(phopAM1)"], "range": ["#4472c4","#ed7d31","#a5a5a5","#ffc000"]},
                 "legend": {"orient": "top-left", "columns": 2, "title": null, "symbolType": "square", "symbolSize": 45, "symbolStrokeColor": "#333", "symbolStrokeWidth": 0.6, "labelFont": "Liberation Sans", "labelFontSize": 9.5, "labelFontWeight": "bold", "labelColor": "#111", "labelLimit": 0, "columnPadding": 16, "rowPadding": 0, "offset": 2, "labelOffset": 4}}}},
            {"mark": {"type": "rule", "color": "#111", "strokeWidth": 1}, "encoding": {"y": {"field": "lo", "type": "quantitative"}, "y2": {"field": "hi"}}},
            {"mark": {"type": "tick", "color": "#111", "size": 7, "thickness": 1}, "encoding": {"y": {"field": "lo", "type": "quantitative"}}},
            {"mark": {"type": "tick", "color": "#111", "size": 7, "thickness": 1}, "encoding": {"y": {"field": "hi", "type": "quantitative"}}}
          ]
        },
        {
          "width": 295, "height": 194,
          "title": {"text": "(c)", "anchor": "start", "frame": "bounds", "fontSize": 16, "offset": 4, "dx": -8},
          "data": {"name": "nad"},
          "encoding": {
            "x": {"field": "time", "type": "nominal", "sort": ["0","24","48","72"], "scale": {"paddingInner": 0.32, "paddingOuter": 0.16}, "axis": {"labelAngle": 0, "labelOverlap": false, "ticks": false, "domainColor": "#111", "labelFontSize": 12.5, "labelPadding": 4, "title": "Time (h)", "titleFontSize": 12.5, "titlePadding": 1}},
            "xOffset": {"field": "strain", "type": "nominal", "scale": {"domain": ["DC3000D28E(pML123)","DC3000D28E(phopAM1)","DC3000D28E(phopAM1E191A)","DC3000D28E hrcU(phopAM1)"], "paddingInner": 0.22}}
          },
          "layer": [
            {"mark": {"type": "bar", "stroke": "#1a1a1a", "strokeWidth": 0.9},
             "encoding": {
               "y": {"field": "v", "type": "quantitative", "scale": {"domain": [0, 3], "nice": false}, "axis": {"values": [0,0.5,1,1.5,2,2.5,3], "tickCount": 30, "labelExpr": "datum.value % 1 == 0 ? format(datum.value, 'd') : ''", "labelOverlap": false, "labelFlush": false, "grid": true, "gridColor": {"condition": {"test": "datum.value % 1 == 0 && datum.value > 0", "value": "#d9d9d9"}, "value": "transparent"}, "tickSize": 4, "tickColor": "#111", "domainColor": "#111", "labelFontSize": 12, "labelPadding": 2, "title": "NAD⁺ (mAU*s)", "titleFontSize": 12, "titlePadding": 10}},
               "color": {"field": "strain", "type": "nominal", "scale": {"domain": ["DC3000D28E(pML123)","DC3000D28E(phopAM1)","DC3000D28E(phopAM1E191A)","DC3000D28E hrcU(phopAM1)"], "range": ["#4472c4","#ed7d31","#a5a5a5","#ffc000"]},
                 "legend": {"orient": "top-left", "columns": 2, "title": null, "symbolType": "square", "symbolSize": 45, "symbolStrokeColor": "#333", "symbolStrokeWidth": 0.6, "labelFont": "Liberation Sans", "labelFontSize": 9.5, "labelFontWeight": "bold", "labelColor": "#111", "labelLimit": 0, "columnPadding": 16, "rowPadding": 0, "offset": 2, "labelOffset": 4}}}},
            {"mark": {"type": "rule", "color": "#111", "strokeWidth": 1}, "encoding": {"y": {"field": "lo", "type": "quantitative"}, "y2": {"field": "hi"}}},
            {"mark": {"type": "tick", "color": "#111", "size": 7, "thickness": 1}, "encoding": {"y": {"field": "lo", "type": "quantitative"}}},
            {"mark": {"type": "tick", "color": "#111", "size": 7, "thickness": 1}, "encoding": {"y": {"field": "hi", "type": "quantitative"}}}
          ]
        }
      ],
      "spacing": 27,
      "resolve": {"scale": {"color": "independent"}, "legend": {"color": "independent"}}
    }
  ]
}
